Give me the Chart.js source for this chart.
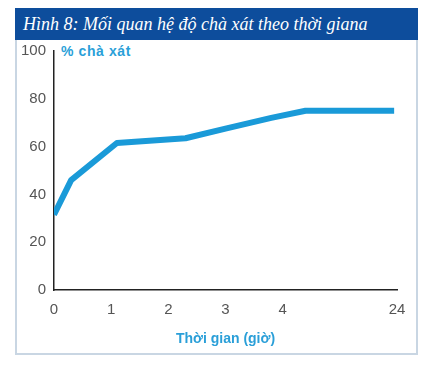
<!DOCTYPE html>
<html>
<head>
<meta charset="utf-8">
<script src="https://cdn.jsdelivr.net/npm/chart.js@4"></script>
<style>
    body { margin: 0; background: #fff; width: 431px; height: 371px; overflow: hidden; position: relative; }
    #title-bar {
        position: absolute; left: 15px; top: 8px; width: 403px; height: 32px;
        background: #0d4d9c; color: #fff;
        font: italic 18px "Liberation Serif", serif;
        line-height: 32px; padding-left: 8px; box-sizing: border-box;
    }
    #frame {
        position: absolute; left: 15px; top: 40px; width: 403px; height: 315px;
        border: 2px solid #c9d6e3; border-top: none; box-sizing: border-box;
    }
    #y-title {
        position: absolute; left: 61px; top: 43px;
        color: #2a9fd8; font: bold 14px "Liberation Sans", sans-serif;
        letter-spacing: 0.6px;
    }
    #graph-line { position: absolute; left: 0; top: 0; }
</style>
</head>
<body>
<div id="title-bar">Hình 8: Mối quan hệ độ chà xát theo thời giana</div>
<div id="frame"></div>
<div id="y-title">% chà xát</div>
<canvas id="graph-line" width="431" height="371"></canvas>
<script>
// x positions on the drawn axis (the axis jumps from 4 h to 24 h)
var xPos = [0, 0.3, 1.1, 2.3, 3.0, 3.8, 4.4, 5.95];
var chaXat = [31.5, 46, 61.5, 63.5, 67.5, 72, 75, 75];
var xTickPos = [0, 1, 2, 3, 4, 6];
var xTickLabels = ['0', '1', '2', '3', '4', '24'];
var yTicks = [0, 20, 40, 60, 80, 100];

createGraphLine();

function createGraphLine() {
    var ctx = document.getElementById('graph-line').getContext('2d');

    var points = xPos.map(function (x, i) {
        return { x: x, y: chaXat[i] };
    });

    var data = {
        datasets: [{
            label: '% chà xát',
            data: points,
            borderColor: '#1a9ad8',
            borderWidth: 6,
            pointRadius: 0,
            tension: 0,
            borderCapStyle: 'butt',
            borderJoinStyle: 'round'
        }]
    };

    var tickFont = { family: 'Liberation Sans', size: 15 };

    var options = {
        responsive: false,
        animation: false,
        layout: { padding: { left: 0, top: 51, right: 34, bottom: 21 } },
        plugins: {
            legend: { display: false },
            tooltip: { enabled: false }
        },
        scales: {
            x: {
                type: 'linear',
                min: 0,
                max: 6,
                grid: { display: false, drawTicks: false },
                border: { display: true, color: '#222', width: 1.5 },
                afterBuildTicks: function (scale) {
                    scale.ticks = xTickPos.map(function (v) { return { value: v }; });
                },
                afterFit: function (scale) { scale.height = 60; },
                ticks: {
                    padding: 11,
                    color: '#555',
                    font: tickFont,
                    maxRotation: 0,
                    callback: function (value) {
                        var i = xTickPos.indexOf(value);
                        return i >= 0 ? xTickLabels[i] : '';
                    }
                },
                title: {
                    display: true,
                    text: 'Thời gian (giờ)',
                    color: '#2a9fd8',
                    font: { family: 'Liberation Sans', size: 14, weight: 'bold' },
                    padding: { top: 0, bottom: 2 }
                }
            },
            y: {
                min: 0,
                max: 100,
                grid: { display: false, drawTicks: false },
                border: { display: true, color: '#222', width: 1.5 },
                afterBuildTicks: function (scale) {
                    scale.ticks = yTicks.map(function (v) { return { value: v }; });
                },
                afterFit: function (scale) { scale.width = 54; },
                ticks: {
                    padding: 8,
                    color: '#555',
                    font: tickFont
                }
            }
        }
    };

    var chart = new Chart(ctx, {
        type: 'line',
        data: data,
        options: options
    });
}
</script>
</body>
</html>
